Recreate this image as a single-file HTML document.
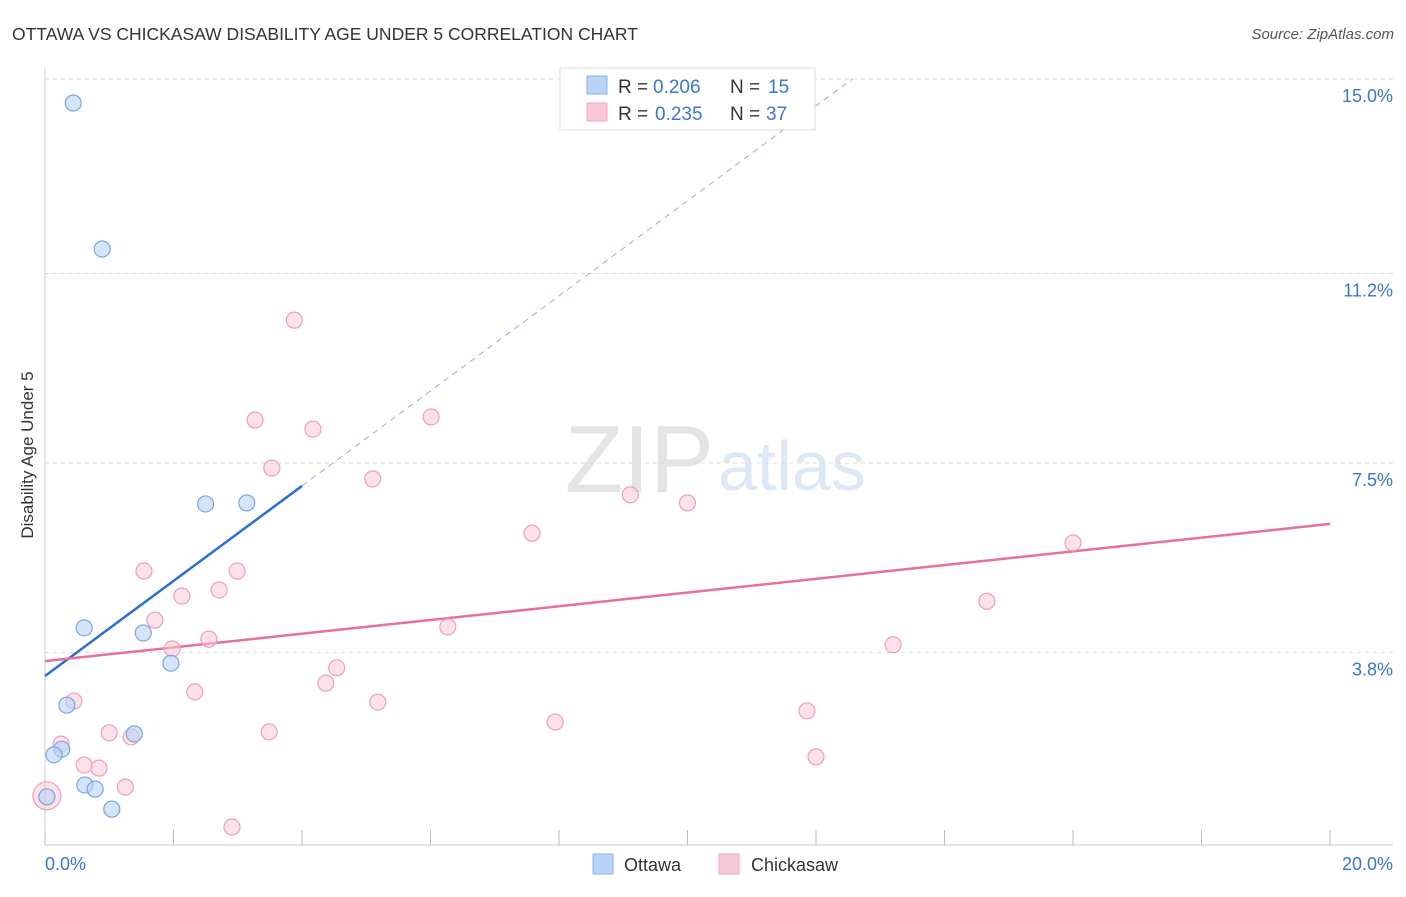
<!DOCTYPE html>
<html><head><meta charset="utf-8"><style>
body{margin:0;background:#fff;font-family:"Liberation Sans",sans-serif}
svg text{font-family:"Liberation Sans",sans-serif}
</style></head><body>
<svg width="1406" height="892" xmlns="http://www.w3.org/2000/svg">
<text x="12" y="40" font-size="17.5" fill="#333">OTTAWA VS CHICKASAW DISABILITY AGE UNDER 5 CORRELATION CHART</text>
<text x="1394" y="39" font-size="15" fill="#555" text-anchor="end" font-style="italic">Source: ZipAtlas.com</text>
<text x="714" y="492" font-size="96" fill="#e4e4e4" text-anchor="end" font-family="Liberation Serif">ZIP</text>
<text x="718" y="490" font-size="70" fill="#dde8f6">atlas</text>
<g id="grid"></g>
<line x1="45" y1="68" x2="45" y2="845" stroke="#ccc"/>
<line x1="45" y1="845" x2="1393" y2="845" stroke="#ccc"/>
<g id="xticks"></g>
<text x="33" y="455" font-size="17" fill="#333" text-anchor="middle" transform="rotate(-90 33 455)">Disability Age Under 5</text>
<text x="45" y="870" font-size="18" fill="#3a75d4">0.0%</text>
<text x="1393" y="870" font-size="18" fill="#3a75d4" text-anchor="end">20.0%</text>
<g id="lines"></g>
<g id="points"></g>
<g>
<rect x="560" y="68" width="255" height="62" fill="#fff" stroke="#ddd"/>
<rect x="587" y="76" width="20" height="18" fill="#b8d3f5" stroke="#8ab2e8"/>
<text x="618" y="93" font-size="19" fill="#333">R =</text>
<text x="653" y="93" font-size="19" fill="#3a75d4">0.206</text>
<text x="730" y="93" font-size="19" fill="#333">N =</text>
<text x="768" y="93" font-size="19" fill="#3a75d4">15</text>
<rect x="587" y="103" width="20" height="18" fill="#f9c8d6" stroke="#eea8bd"/>
<text x="618" y="120" font-size="19" fill="#333">R =</text>
<text x="655" y="120" font-size="19" fill="#3a75d4">0.235</text>
<text x="730" y="120" font-size="19" fill="#333">N =</text>
<text x="766" y="120" font-size="19" fill="#3a75d4">37</text>
</g>
<g>
<rect x="593" y="854" width="20" height="20" fill="#b8d3f5" stroke="#8ab2e8"/>
<text x="624" y="871" font-size="18" fill="#333">Ottawa</text>
<rect x="719" y="854" width="20" height="20" fill="#f9c8d6" stroke="#eea8bd"/>
<text x="751" y="871" font-size="18" fill="#333">Chickasaw</text>
</g>
</svg>
<script>
const yTicks=[3.8,7.5,11.2,15.0];
const xTickVals=[0,2,4,6,8,10,12,14,16,18,20];
const ottawaX=[0.44,0.89,0.61,1.53,1.96,2.50,3.14,0.34,0.26,0.14,1.39,0.62,0.78,1.04,0.03];
const ottawaY=[14.53,11.68,4.28,4.18,3.59,6.70,6.72,2.77,1.91,1.80,2.21,1.21,1.13,0.74,0.98];
const chickX=[3.88,3.27,4.17,6.01,3.53,5.10,9.11,10.0,7.58,16.0,1.54,2.99,2.71,2.13,14.66,1.71,6.27,2.55,1.98,13.2,4.54,4.37,2.33,0.45,5.18,7.94,11.86,1.0,3.49,1.34,0.25,0.61,0.84,12.0,1.25,2.91,0.03];
const chickY=[10.29,8.34,8.16,8.40,7.40,7.19,6.88,6.72,6.13,5.94,5.39,5.39,5.02,4.90,4.80,4.43,4.30,4.06,3.87,3.95,3.50,3.20,3.03,2.85,2.83,2.44,2.66,2.23,2.25,2.15,2.01,1.60,1.54,1.76,1.17,0.39,1.0];
const ottawaTrend=[3.34,0.928];
const chickTrend=[3.63,0.134];
const X=v=>45+v*64.25, Y=v=>847-v*51.2;
const NS="http://www.w3.org/2000/svg";
function mk(tag,attrs,parent){const e=document.createElementNS(NS,tag);for(const k in attrs)e.setAttribute(k,attrs[k]);document.getElementById(parent).appendChild(e);return e;}
yTicks.forEach(t=>{
 const l=mk('line',{x1:45,x2:1393,y1:Y(t),y2:Y(t),stroke:'#ddd','stroke-dasharray':'4,4'},'grid');
 
 
 const tx=mk('text',{x:1393,y:Y(t)+23,'font-size':18,fill:'#3a75d4','text-anchor':'end'},'grid');
 tx.textContent=t.toFixed(1)+'%';
 
 
});
xTickVals.forEach(v=>{
 const l=mk('line',{x1:X(v),x2:X(v),y1:830,y2:845,stroke:'#bbb'},'xticks');
 
 
});
const ox2=(15-ottawaTrend[0])/ottawaTrend[1];
let l1=mk('line',{x1:X(0),y1:Y(ottawaTrend[0]),x2:X(4),y2:Y(ottawaTrend[0]+4*ottawaTrend[1]),stroke:'#2a6fd6','stroke-width':2.5},'lines');


let l2=mk('line',{x1:X(4),y1:Y(ottawaTrend[0]+4*ottawaTrend[1]),x2:X(ox2),y2:Y(15),stroke:'#8ab2e8','stroke-width':1,'stroke-dasharray':'6,5'},'lines');


let l3=mk('line',{x1:X(0),y1:Y(chickTrend[0]),x2:X(20),y2:Y(chickTrend[0]+20*chickTrend[1]),stroke:'#e8709a','stroke-width':2.5},'lines');


chickX.forEach((x,i)=>{
 const big=(i===chickX.length-1);
 const c=mk('circle',{cx:X(x),cy:Y(chickY[i]),r:big?14:8,fill:'rgba(249,200,214,0.55)',stroke:'#eea0b8','stroke-width':1.2},'points');
 
 
});
ottawaX.forEach((x,i)=>{
 const c=mk('circle',{cx:X(x),cy:Y(ottawaY[i]),r:8,fill:'rgba(184,211,245,0.6)',stroke:'#7aa6e0','stroke-width':1.2},'points');
 
 
});
</script>
</body></html>
